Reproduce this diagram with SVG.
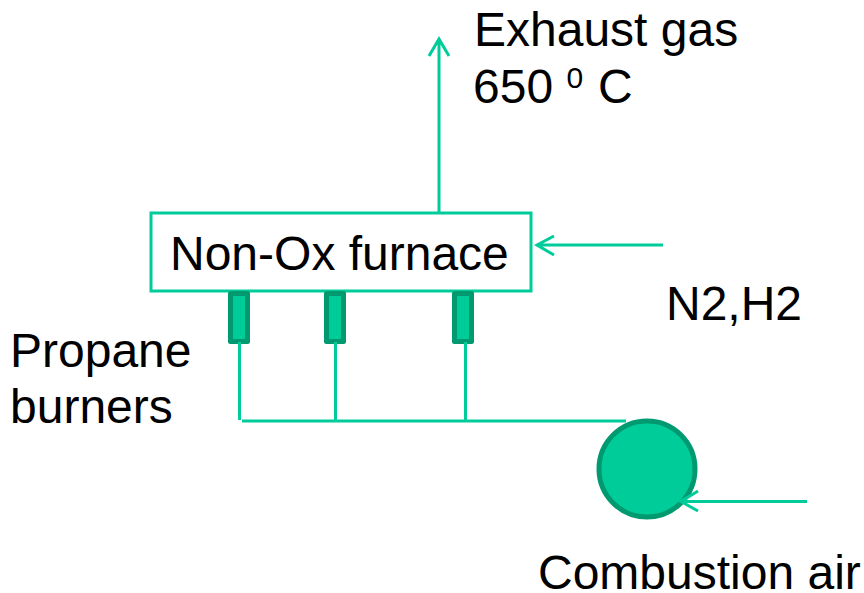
<svg xmlns="http://www.w3.org/2000/svg" width="864" height="593" viewBox="0 0 864 593">
<style>
text{font-family:"Liberation Sans",Arial,sans-serif;font-size:48px;fill:#000}
.c{fill:none;stroke:#00cc99;stroke-width:3}
.b{fill:#00cc99;stroke:#009970;stroke-width:5;stroke-linejoin:round}
</style>
<rect width="864" height="593" fill="#fff"/>
<g id="furnace"><rect x="151" y="213" width="380" height="78" fill="#fff" stroke="#00cc99" stroke-width="3"/><text x="170" y="270">Non-Ox furnace</text></g>
<g id="burner1"><rect class="b" x="230.500" y="293.500" width="17" height="48"/></g>
<g id="burner2"><rect class="b" x="326.500" y="293.500" width="17" height="48"/></g>
<g id="burner3"><rect class="b" x="454.500" y="293.500" width="17" height="48"/></g>
<g id="blower"><circle class="b" cx="647" cy="469" r="48"/></g>
<g id="exhaust"><text x="474" y="46">Exhaust gas</text><text x="473" y="103">650 <tspan font-size="30" dy="-15">0</tspan><tspan dy="15" x="598">C</tspan></text></g>
<g id="n2h2"><text x="666" y="320">N2,H2</text></g>
<g id="propane"><text x="10" y="367">Propane</text><text x="10" y="423">burners</text></g>
<g id="air"><text x="538" y="589">Combustion air</text></g>
<g id="connectors">
<path class="c" d="M439 213V40M429 56L439 39L449 56"/>
<path class="c" d="M663 245H538M554 236L537 245L554 255"/>
<path class="c" d="M239.500 342V420M335.500 342V421M465.500 342V421M242 421H626"/>
<path class="c" d="M807 501.500H682M698 491L681 501.500L698 511"/>
</g>
</svg>
